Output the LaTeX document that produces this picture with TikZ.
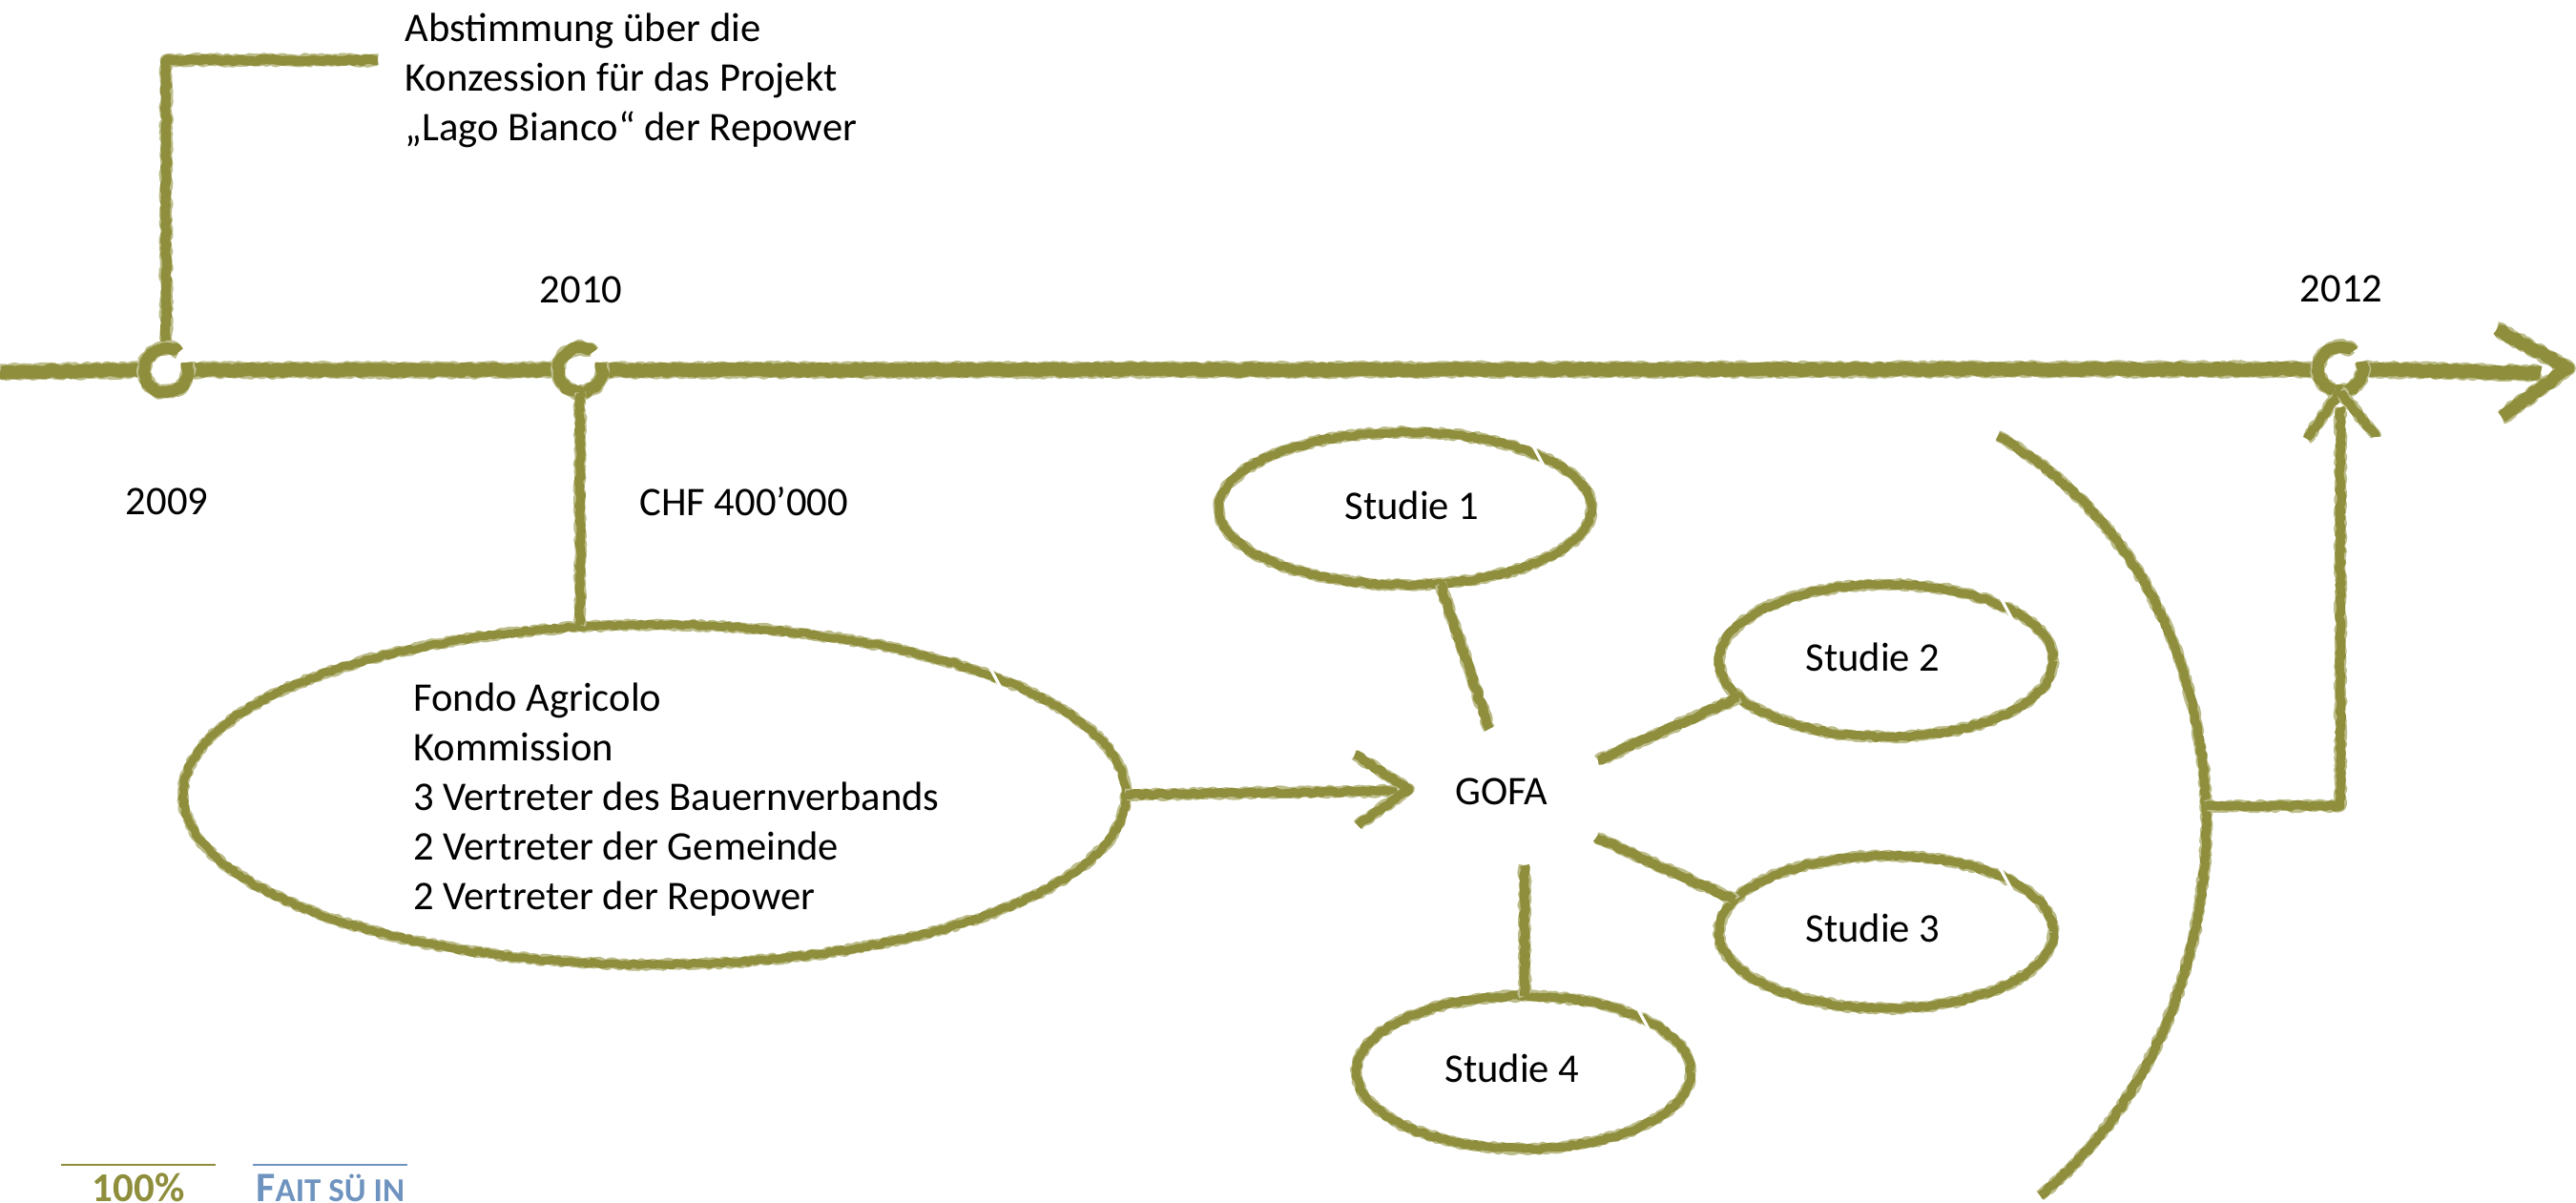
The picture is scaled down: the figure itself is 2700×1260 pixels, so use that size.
\documentclass[tikz,border=0pt]{standalone}
\usepackage{fontspec}
\setmainfont{Carlito}
\usetikzlibrary{shapes.geometric,decorations.pathmorphing}
\definecolor{chalkol}{HTML}{8E8E3C}
\definecolor{chalkfr}{HTML}{BDBD8C}
\definecolor{logoblue}{HTML}{6F93BF}
\pgfmathsetseed{7}
\tikzset{
  chalkline/.style={
    preaction={draw=chalkfr,line width=#1+1.4pt,decorate,decoration={random steps,segment length=1.7pt,amplitude=.75pt},line join=round},
    preaction={draw=chalkol,line width=#1,decorate,decoration={random steps,segment length=1.7pt,amplitude=.7pt},line join=round}},
  chalkline/.default=4.4pt,
  blob/.style={ellipse,chalkline=#1,inner sep=0pt,outer sep=0pt},
  blob/.default=4.4pt,
  ring/.style={circle,minimum size=23pt,inner sep=0pt,outer sep=0pt},
  label/.style={font=\fontsize{21.3}{26}\selectfont,text=black,inner sep=0pt,align=left},
  gapmark/.style={draw=white,line width=1.6pt},
}
\begin{document}
\begin{tikzpicture}[x=.5pt,y=-.5pt]
\useasboundingbox (0,0) rectangle (2700,1260);
% timeline stations
\node[ring] (c09) at (174,388) {};
\node[ring] (c10) at (608,388) {};
\node[ring] (c12) at (2453,387) {};
\coordinate (tstart) at (0,390);
\coordinate (tend) at (2663,391);
\coordinate (ttip) at (2692,386);
\coordinate (ttop) at (2617,345);
\coordinate (tbot) at (2622,437);
\path[chalkline=7pt] (tstart) -- (c09.west);
\path[chalkline=7pt] (c09.east) -- (c10.west);
\path[chalkline=7pt] (c10.east) -- (c12.west);
\path[chalkline=7pt] (c12.east) -- (tend);
\path[chalkline=6.5pt] (ttop) -- (ttip) -- (tbot);
% Abstimmung leader
\coordinate (ltop) at (174,63);
\coordinate (lend) at (396,63);
\path[chalkline=5pt] (c09.north) -- (ltop) -- (lend);
\foreach \r in {c09,c10,c12}{
  \path[chalkline=6pt] (\r.55) arc[start angle=55,end angle=380,radius=11.5pt];
}
\node[label,anchor=north west] (abst) at (424,14) {Abstimmung über die\\Konzession für das Projekt\\„Lago Bianco“ der Repower};
% year labels
\node[label,anchor=center] (y09) at (175,526) {2009};
\node[label,anchor=center] (y10) at (609,304) {2010};
\node[label,anchor=center] (y12) at (2454,303) {2012};
\node[label,anchor=west] (chf) at (670,526) {CHF 400’000};
% Fondo Agricolo
\node[blob=4.2pt,minimum width=494pt,minimum height=178pt] (fondo) at (686,833) {};
\path[chalkline=4.6pt] (c10.south) -- (c10.south |- fondo.north);
\node[label,anchor=west] (fondotxt) at (433,838) {Fondo Agricolo\\Kommission\\3 Vertreter des Bauernverbands\\2 Vertreter der Gemeinde\\2 Vertreter der Repower};
% GOFA
\node[label,anchor=center] (gofa) at (1574,830) {GOFA};
\coordinate (fend) at (1465,829);
\coordinate (ftip) at (1477,827);
\coordinate (fa) at (1420,791);
\coordinate (fb) at (1423,865);
\path[chalkline=4.6pt] (fondo.east) -- (fend);
\path[chalkline=4.6pt] (fa) -- (ftip) -- (fb);
% studies
\node[blob,minimum width=195pt,minimum height=80pt] (s1) at (1473,533) {};
\node[blob,minimum width=175pt,minimum height=80pt] (s2) at (1977,692.5) {};
\node[blob,minimum width=175pt,minimum height=80pt] (s3) at (1977,977) {};
\node[blob,minimum width=175pt,minimum height=80pt] (s4) at (1597,1124) {};
\node[label,anchor=center] (s1t) at (1480,530) {Studie 1};
\node[label,anchor=center] (s2t) at (1963,689) {Studie 2};
\node[label,anchor=center] (s3t) at (1963,973) {Studie 3};
\node[label,anchor=center] (s4t) at (1585,1120) {Studie 4};
\coordinate (g1) at (1561,764);
\coordinate (g2) at (1675,797);
\coordinate (g3) at (1673,878);
\coordinate (g4) at (1598,907);
\path[chalkline=4.8pt] (s1.295) -- (g1);
\path[chalkline=4.8pt] (g2) -- (s2.194);
\path[chalkline=4.8pt] (g3) -- (s3.168);
\path[chalkline=4.8pt] (g4) -- (g4 |- s4.north);
% gaps in the ellipses
\foreach \e/\a in {s1/22,s2/24,s3/24,s4/24,fondo/19.6}{
  \draw[gapmark] ([shift={(-7,-13)}]\e.\a) -- ([shift={(7,13)}]\e.\a);
}
% bow and link to 2012
\coordinate (bowa) at (2094,457);
\coordinate (bowb) at (2140,1252);
\coordinate (bowm) at (2312,845);
\coordinate (bowc) at (c12.south |- bowm);
\coordinate (harrow) at (2453,427);
\path[chalkline=4.6pt] (bowa) .. controls (2377,620) and (2377,1055) .. (bowb);
\path[chalkline=4.6pt] (bowm) -- (bowc) -- (harrow);
\coordinate (ha) at (2418,460);
\coordinate (hb) at (2490,458);
\path[chalkline=4.6pt] (ha) -- (c12.south);
\path[chalkline=4.6pt] (hb) -- (c12.south);
% logos
\draw[draw=chalkol,line width=1.3pt] (64,1221) coordinate (l1a) -- (226,1221) coordinate (l1b);
\draw[draw=logoblue,line width=1.3pt] (265,1221) coordinate (l2a) -- (427,1221) coordinate (l2b);
\node[anchor=base,inner sep=0pt,text=chalkol,font=\bfseries\fontsize{21.5}{24}\selectfont] (pct) at (145,1259) {100\%};
\node[anchor=base west,inner sep=0pt,text=logoblue,font=\bfseries\fontsize{22}{24}\selectfont] (fait) at (268,1259) {F{\fontsize{17.5}{20}\selectfont AIT SÜ IN}};
\end{tikzpicture}
\end{document}
